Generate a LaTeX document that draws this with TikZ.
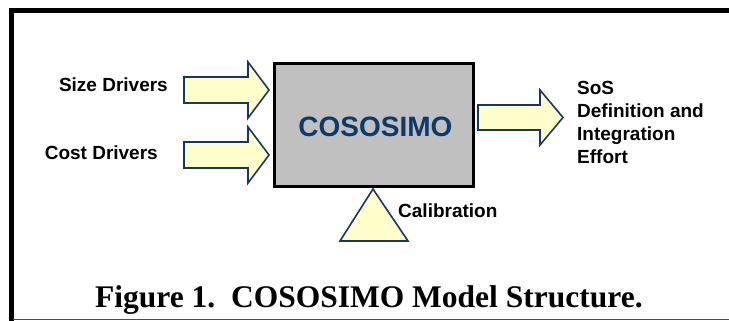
\documentclass[tikz,border=0pt]{standalone}
\usepackage{fontspec}
\setmainfont{Liberation Sans}
\newfontfamily\capfont{Liberation Serif}
\definecolor{arrowfill}{HTML}{FFFFCC}
\definecolor{navy}{HTML}{17375E}
\definecolor{boxgray}{HTML}{C0C0C0}
\definecolor{titleblue}{HTML}{0E3A6B}
\tikzset{
  fatarrow/.style={draw=navy, line width=1.6pt, fill=arrowfill, line join=miter},
  lbl/.style={inner sep=0pt, font=\fontsize{19}{23}\selectfont\bfseries},
}
\begin{document}
\begin{tikzpicture}[x=1pt,y=-1pt]
\useasboundingbox (0,0) rectangle (729,321);
% frame
\draw[line width=5pt, line join=miter] (11,321) -- (11,10.5) -- (729,10.5);
\draw[line width=1pt, black!70] (13,319.5) -- (729,319.5);
% model box
\node[draw, line width=3pt, fill=boxgray, minimum width=199pt, minimum height=123pt, inner sep=0pt] (model) at (374,125) {};
\node[anchor=base, inner sep=0pt, text=titleblue, font=\fontsize{28}{30}\selectfont\bfseries] (modeltxt) at (375.5,136) {COSOSIMO};
% input arrows
\draw[fatarrow] (184,77) -- (248,77) -- (248,62) -- (269,90) -- (248,118) -- (248,103) -- (184,103) -- cycle;
\draw[fatarrow] (184,142) -- (248,142) -- (248,127) -- (269,155) -- (248,183) -- (248,168) -- (184,168) -- cycle;
% output arrow
\draw[fatarrow] (478,105) -- (540,105) -- (540,90) -- (563,117.5) -- (540,145) -- (540,130) -- (478,130) -- cycle;
% calibration triangle
\draw[fatarrow] (373,189) -- (408,241) -- (340,241) -- cycle;
% labels
\node[lbl, anchor=base east] (size) at (168,92) {Size Drivers};
\node[lbl, anchor=base east] (cost) at (158,160) {Cost Drivers};
\node[lbl, anchor=base west] (calib) at (398,217) {Calibration};
\node[lbl, anchor=base west, align=left] (out) at (577,163) {SoS\\Definition and\\Integration\\Effort};
% caption
\node[anchor=base west, inner sep=0pt, font=\capfont\fontsize{31.5}{34}\selectfont\bfseries] (caption) at (95,307) {Figure 1.\ \ COSOSIMO Model Structure.};
\end{tikzpicture}
\end{document}
